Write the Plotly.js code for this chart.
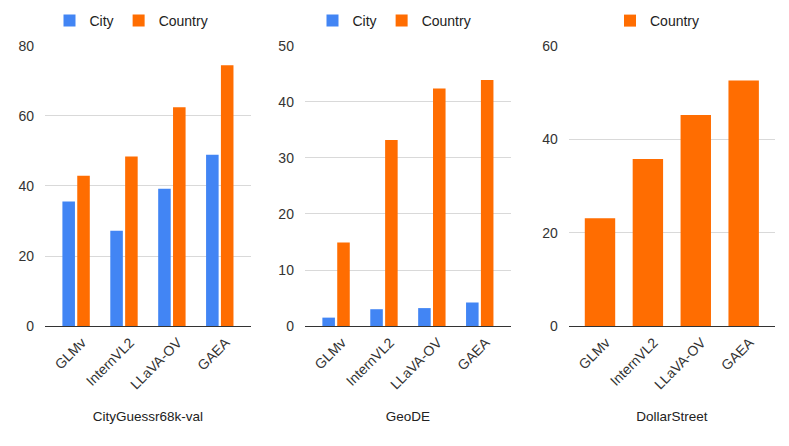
<!DOCTYPE html>
<html>
<head>
<meta charset="utf-8">
<script src="https://cdn.plot.ly/plotly-3.0.1.min.js"></script>
<style>
  html, body { margin: 0; padding: 0; background: #fff; }
  #chart { width: 789px; height: 446px; }
</style>
</head>
<body>
<div id="chart"></div>
<script>
// models on the x axis, same for every panel
const models = ["GLMv", "InternVL2", "LLaVA-OV", "GAEA"];

// CityGuessr68k-val
const cgCity = [35.6, 27.2, 39.2, 48.9];
const cgCountry = [42.9, 48.4, 62.5, 74.5];

// GeoDE
const geoCity = [1.5, 3.0, 3.2, 4.2];
const geoCountry = [14.9, 33.2, 42.4, 43.9];

// DollarStreet (country only)
const dsCountry = [23.1, 35.8, 45.2, 52.6];

const panelTitles = ["CityGuessr68k-val", "GeoDE", "DollarStreet"];

const BLUE = "#4285f4";
const ORANGE = "#ff6d01";
const FONT = "Liberation Sans, Arial, sans-serif";

function bar(name, y, color, n) {
  const sfx = n === 1 ? "" : String(n);
  return {
    type: "bar",
    name: name,
    x: models,
    y: y,
    marker: { color: color },
    xaxis: "x" + sfx,
    yaxis: "y" + sfx,
    legend: "legend" + sfx,
    hoverinfo: "skip",
  };
}

// single series panel has wider bars than the paired ones
const dsBar = bar("Country", dsCountry, ORANGE, 3);
dsBar.width = 0.635;
dsBar.offset = -0.3175;

const traces = [
  bar("City", cgCity, BLUE, 1),
  bar("Country", cgCountry, ORANGE, 1),
  bar("City", geoCity, BLUE, 2),
  bar("Country", geoCountry, ORANGE, 2),
  dsBar,
];

const yDom = [0.269, 0.897];
const xDoms = [
  [0.057, 0.318],
  [0.3865, 0.6475],
  [0.721, 0.982],
];
const legendX = [1 / 6, 0.5, 5 / 6];
const yRanges = [[0, 80], [0, 50], [0, 60]];
const yTicks = [20, 10, 20];

const layout = {
  width: 789,
  height: 446,
  margin: { l: 0, r: 0, t: 0, b: 0 },
  paper_bgcolor: "#fff",
  plot_bgcolor: "#fff",
  font: { family: FONT, size: 13, color: "#333" },
  barmode: "group",
  bargap: 0.38,
  bargroupgap: 0.155,
};

xDoms.forEach((dom, i) => {
  const sfx = i === 0 ? "" : String(i + 1);
  layout["xaxis" + sfx] = {
    domain: dom,
    anchor: "y" + sfx,
    type: "category",
    range: [-0.65, 3.65],
    tickangle: -45,
    ticks: "",
    ticklabelshift: 6,
    ticklabelstandoff: 2,
    showgrid: false,
    showline: true,
    linecolor: "#333",
    linewidth: 1,
    tickfont: { size: 14, color: "#333" },
    title: {
      text: panelTitles[i],
      font: { size: 13.5, color: "#222" },
      standoff: 20,
    },
  };
  layout["yaxis" + sfx] = {
    domain: yDom,
    anchor: "x" + sfx,
    range: yRanges[i],
    dtick: yTicks[i],
    tick0: 0,
    showgrid: true,
    gridcolor: "#d9d9d9",
    zeroline: false,
    ticks: "",
    ticklabelstandoff: 10,
    tickfont: { size: 14, color: "#333" },
  };
  layout["legend" + sfx] = {
    orientation: "h",
    x: legendX[i],
    xanchor: "center",
    y: 1 - 21 / 446,
    yanchor: "middle",
    font: { size: 14, color: "#222" },
    itemclick: false,
    itemdoubleclick: false,
  };
});

Plotly.newPlot("chart", traces, layout, { displayModeBar: false, staticPlot: true });
</script>
</body>
</html>
